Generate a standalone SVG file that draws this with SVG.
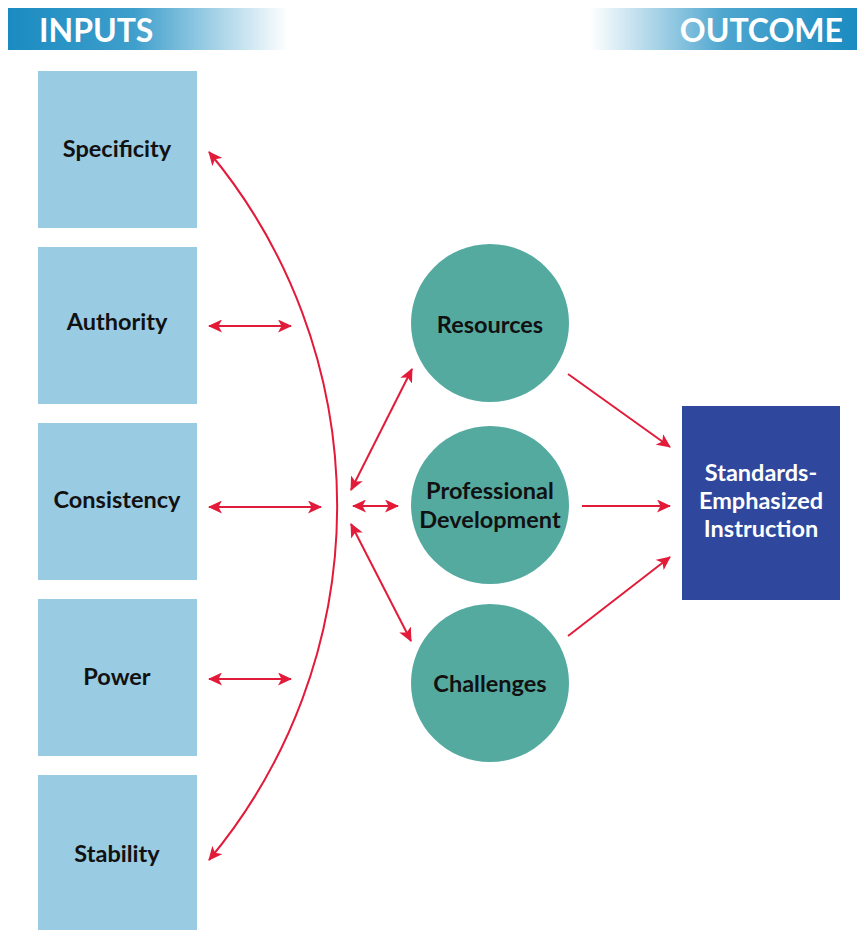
<svg xmlns="http://www.w3.org/2000/svg" width="857" height="930" viewBox="0 0 857 930">
<defs>
<linearGradient id="gIn" x1="0" y1="0" x2="1" y2="0">
<stop offset="0" stop-color="#1a8bc1"/><stop offset="0.45" stop-color="#3f9fcc"/><stop offset="1" stop-color="#ffffff"/>
</linearGradient>
<linearGradient id="gOut" x1="0" y1="0" x2="1" y2="0">
<stop offset="0" stop-color="#ffffff"/><stop offset="0.5" stop-color="#4fa6cf"/><stop offset="1" stop-color="#1a8bc1"/>
</linearGradient>
<marker id="ah" viewBox="0 0 14 13" refX="13" refY="6.5" markerWidth="14" markerHeight="13" markerUnits="userSpaceOnUse" orient="auto-start-reverse">
<path d="M0,0 L14,6.5 L0,13 L3.5,6.5 Z" fill="#e31b3a"/>
</marker>
<style>
.box{fill:#99cbe2}
.circ{fill:#55aaa0}
.lbl{font-family:Lato,"Liberation Sans",sans-serif;font-weight:bold;font-size:23.5px;fill:#111;text-anchor:middle}
.hdr{font-family:Lato,"Liberation Sans",sans-serif;font-weight:bold;font-size:32px;fill:#ffffff}
.out{font-family:Lato,"Liberation Sans",sans-serif;font-weight:bold;font-size:23.5px;fill:#ffffff;text-anchor:middle}
.con{stroke:#e31b3a;stroke-width:2;fill:none}
.dbl{marker-start:url(#ah);marker-end:url(#ah)}
.one{marker-end:url(#ah)}
</style>
</defs>
<rect width="857" height="930" fill="#ffffff"/>
<g id="hdr-inputs">
<rect x="8" y="8" width="280" height="42" fill="url(#gIn)"/>
<text class="hdr" x="39" y="42">INPUTS</text>
</g>
<g id="hdr-outcome">
<rect x="590" y="8" width="267" height="42" fill="url(#gOut)"/>
<text class="hdr" x="843" y="42" text-anchor="end">OUTCOME</text>
</g>
<g id="n-specificity"><rect class="box" x="38" y="71" width="159" height="157"/><text class="lbl" x="117" y="157">Specificity</text></g>
<g id="n-authority"><rect class="box" x="38" y="247" width="159" height="157"/><text class="lbl" x="117" y="330">Authority</text></g>
<g id="n-consistency"><rect class="box" x="38" y="423" width="159" height="157"/><text class="lbl" x="117" y="508">Consistency</text></g>
<g id="n-power"><rect class="box" x="38" y="599" width="159" height="157"/><text class="lbl" x="117" y="685">Power</text></g>
<g id="n-stability"><rect class="box" x="38" y="775" width="159" height="157"/><text class="lbl" x="117" y="862">Stability</text></g>
<g id="n-resources"><circle class="circ" cx="490" cy="323" r="79"/><text class="lbl" x="490" y="333">Resources</text></g>
<g id="n-pd"><circle class="circ" cx="490" cy="505" r="79"/><text class="lbl" x="490" y="499">Professional</text><text class="lbl" x="490" y="528">Development</text></g>
<g id="n-challenges"><circle class="circ" cx="490" cy="683" r="79"/><text class="lbl" x="490" y="692">Challenges</text></g>
<g id="n-sei"><rect x="682" y="406" width="158" height="194" fill="#2f479c"/><text class="out" x="761" y="481">Standards-</text><text class="out" x="761" y="509">Emphasized</text><text class="out" x="761" y="537">Instruction</text></g>
<g id="connectors">
<path class="con dbl" d="M209,152 A553,553 0 0 1 209,860"/>
<line class="con dbl" x1="209" y1="326" x2="291" y2="326"/>
<line class="con dbl" x1="209" y1="507" x2="321" y2="507"/>
<line class="con dbl" x1="209" y1="679" x2="291" y2="679"/>
<line class="con dbl" x1="351" y1="490" x2="412" y2="369"/>
<line class="con dbl" x1="353" y1="506" x2="398" y2="506"/>
<line class="con dbl" x1="351" y1="524" x2="411" y2="641"/>
<line class="con one" x1="568" y1="374" x2="670" y2="447"/>
<line class="con one" x1="582" y1="506" x2="670" y2="506"/>
<line class="con one" x1="568" y1="636" x2="670" y2="557"/>
</g>
</svg>
